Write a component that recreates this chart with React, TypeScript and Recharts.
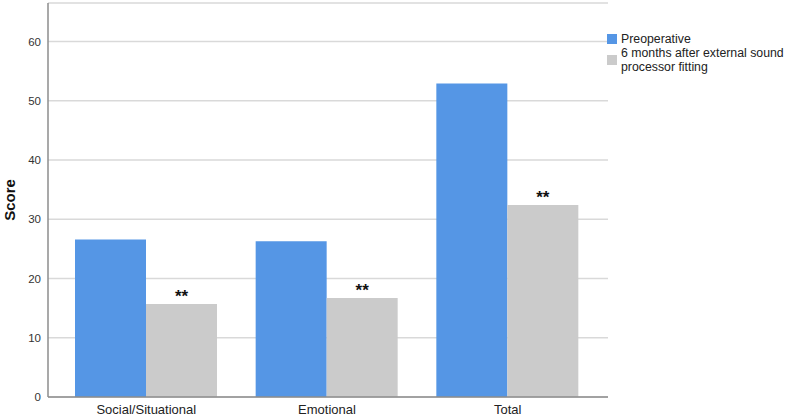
import React from 'react';
import { BarChart, Bar, XAxis, YAxis, CartesianGrid, LabelList, Label } from 'recharts';

const categories = ['Social/Situational', 'Emotional', 'Total'];
const preoperative = [26.6, 26.3, 52.9];
const sixMonths = [15.7, 16.7, 32.4];
const significance = ['**', '**', '**'];
const yTicks = [0, 10, 20, 30, 40, 50, 60];
const seriesNames = ['Preoperative', '6 months after external sound processor fitting'];

const data = categories.map((c, i) => ({
  name: c,
  pre: preoperative[i],
  post: sixMonths[i],
  sig: significance[i],
}));

const BLUE = '#5596e5';
const GRAY = '#cbcbcb';
const FONT = 'Arial, "Liberation Sans", sans-serif';

const LegendBox = () => (
  <div
    style={{
      position: 'absolute',
      left: 607,
      top: 32,
      width: 183,
      fontFamily: FONT,
      fontSize: 12.3,
      color: '#222',
      lineHeight: '14px',
      overflow: 'hidden',
    }}
  >
    <div style={{ display: 'flex', alignItems: 'center' }}>
      <div style={{ width: 10, height: 10, background: BLUE, marginRight: 4, flexShrink: 0 }} />
      <span>{seriesNames[0]}</span>
    </div>
    <div style={{ display: 'flex', alignItems: 'center' }}>
      <div style={{ width: 10, height: 10, background: GRAY, marginRight: 4, flexShrink: 0 }} />
      <span style={{ width: 169 }}>{seriesNames[1]}</span>
    </div>
  </div>
);

const SigLabel = (props: any) => {
  const { x, y, width, value } = props;
  return (
    <text x={x + width / 2} y={y - 2} textAnchor="middle" fontSize={17} fontWeight="bold" fill="#111" fontFamily={FONT}>
      {value}
    </text>
  );
};

export default function App() {
  return (
    <div style={{ position: 'absolute', left: 0, top: 0, width: 790, height: 418, background: '#fff', overflow: 'hidden' }}>
      <style>{'body{margin:0}'}</style>
      <BarChart
        width={790}
        height={418}
        data={data}
        margin={{ top: 3, right: 182, bottom: 0, left: 0 }}
        barGap={0}
        barCategoryGap={19}
      >
        <CartesianGrid vertical={false} stroke="#d9d9d9" strokeWidth={1.5} />
        <XAxis
          dataKey="name"
          height={21}
          padding={{ left: 8, right: 10 }}
          axisLine={{ stroke: '#8c8c8c', strokeWidth: 1.5 }}
          tickLine={false}
          tickSize={0}
          tickMargin={8}
          tick={{ fill: '#222', fontSize: 13, fontFamily: FONT }}
          interval={0}
        />
        <YAxis
          width={48}
          domain={[0, 66.5]}
          ticks={yTicks}
          allowDataOverflow
          axisLine={{ stroke: '#8c8c8c', strokeWidth: 1.5 }}
          tickLine={false}
          tickSize={0}
          tickMargin={7}
          tick={{ fill: '#333', fontSize: 11.5, fontFamily: FONT }}
        >
          <Label
            value="Score"
            angle={-90}
            position="insideLeft"
            offset={10}
            style={{ textAnchor: 'middle', fontWeight: 'bold', fontSize: 15, fill: '#111', fontFamily: FONT }}
          />
        </YAxis>
        <Bar dataKey="pre" name={seriesNames[0]} fill={BLUE} isAnimationActive={false} />
        <Bar dataKey="post" name={seriesNames[1]} fill={GRAY} isAnimationActive={false}>
          <LabelList dataKey="sig" content={<SigLabel />} />
        </Bar>
      </BarChart>
      <LegendBox />
    </div>
  );
}
